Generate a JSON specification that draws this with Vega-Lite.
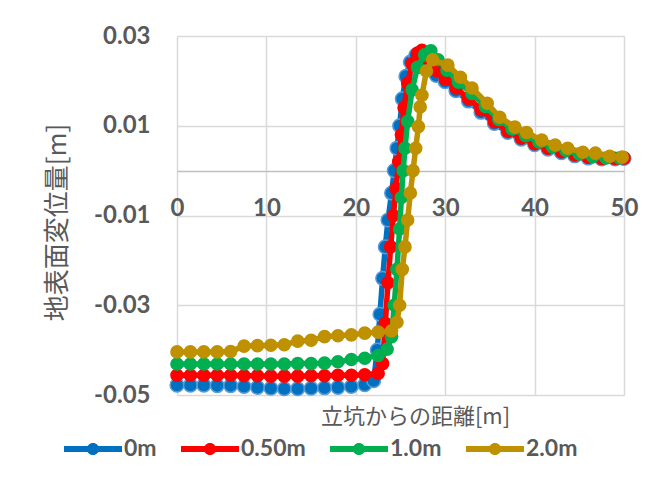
{
  "$schema": "https://vega.github.io/schema/vega-lite/v6.json",
  "width": 447,
  "height": 359,
  "autosize": {"type": "none"},
  "padding": {"left": 177, "top": 36, "right": 22, "bottom": 83},
  "background": "white",
  "config": {
    "view": {"stroke": null},
    "axis": {
      "labelFont": "Lato",
      "labelFontWeight": "bold",
      "labelFontSize": 24,
      "labelColor": "#595959",
      "titleFont": "Noto Sans CJK JP",
      "titleFontWeight": "normal",
      "titleColor": "#595959",
      "ticks": false,
      "domain": false,
      "gridColor": "#D9D9D9",
      "gridWidth": 1.5
    }
  },
  "data": {
    "values": [
      {"s": "0m", "x": 0, "y": -0.0478}, {"s": "0m", "x": 1.5, "y": -0.0478}, {"s": "0m", "x": 3, "y": -0.0478}, {"s": "0m", "x": 4.5, "y": -0.0479},
      {"s": "0m", "x": 6, "y": -0.0479}, {"s": "0m", "x": 7.5, "y": -0.0481}, {"s": "0m", "x": 9, "y": -0.0483}, {"s": "0m", "x": 10.5, "y": -0.0485},
      {"s": "0m", "x": 12, "y": -0.0486}, {"s": "0m", "x": 13.5, "y": -0.0486}, {"s": "0m", "x": 15, "y": -0.0485}, {"s": "0m", "x": 16.5, "y": -0.0484},
      {"s": "0m", "x": 18, "y": -0.0483}, {"s": "0m", "x": 19.5, "y": -0.0481}, {"s": "0m", "x": 21, "y": -0.0477}, {"s": "0m", "x": 22, "y": -0.0468},
      {"s": "0m", "x": 22.4, "y": -0.040}, {"s": "0m", "x": 22.7, "y": -0.032}, {"s": "0m", "x": 23.0, "y": -0.024}, {"s": "0m", "x": 23.3, "y": -0.017},
      {"s": "0m", "x": 23.6, "y": -0.011}, {"s": "0m", "x": 24.0, "y": -0.005}, {"s": "0m", "x": 24.3, "y": 0.000}, {"s": "0m", "x": 24.6, "y": 0.005},
      {"s": "0m", "x": 24.9, "y": 0.010}, {"s": "0m", "x": 25.2, "y": 0.016}, {"s": "0m", "x": 25.6, "y": 0.021}, {"s": "0m", "x": 26.1, "y": 0.0242},
      {"s": "0m", "x": 26.7, "y": 0.0257}, {"s": "0m", "x": 27.3, "y": 0.0258}, {"s": "0m", "x": 28.0, "y": 0.0235}, {"s": "0m", "x": 29.0, "y": 0.0212},
      {"s": "0m", "x": 30.0, "y": 0.0198}, {"s": "0m", "x": 31.2, "y": 0.0178}, {"s": "0m", "x": 32.6, "y": 0.0155}, {"s": "0m", "x": 34.0, "y": 0.0130},
      {"s": "0m", "x": 35.5, "y": 0.0105}, {"s": "0m", "x": 37.0, "y": 0.0085}, {"s": "0m", "x": 38.5, "y": 0.0070}, {"s": "0m", "x": 40.0, "y": 0.0058},
      {"s": "0m", "x": 41.5, "y": 0.0048}, {"s": "0m", "x": 43.0, "y": 0.0040}, {"s": "0m", "x": 44.5, "y": 0.0033}, {"s": "0m", "x": 46.0, "y": 0.0028},
      {"s": "0m", "x": 47.5, "y": 0.0026}, {"s": "0m", "x": 49.0, "y": 0.0026}, {"s": "0m", "x": 50.0, "y": 0.0027},

      {"s": "0.50m", "x": 0, "y": -0.0456}, {"s": "0.50m", "x": 1.5, "y": -0.0456}, {"s": "0.50m", "x": 3, "y": -0.0456}, {"s": "0.50m", "x": 4.5, "y": -0.0456},
      {"s": "0.50m", "x": 6, "y": -0.0456}, {"s": "0.50m", "x": 7.5, "y": -0.0457}, {"s": "0.50m", "x": 9, "y": -0.0457}, {"s": "0.50m", "x": 10.5, "y": -0.0458},
      {"s": "0.50m", "x": 12, "y": -0.0458}, {"s": "0.50m", "x": 13.5, "y": -0.0458}, {"s": "0.50m", "x": 15, "y": -0.0457}, {"s": "0.50m", "x": 16.5, "y": -0.0457},
      {"s": "0.50m", "x": 18, "y": -0.0456}, {"s": "0.50m", "x": 19.5, "y": -0.0456}, {"s": "0.50m", "x": 21, "y": -0.0455}, {"s": "0.50m", "x": 22.5, "y": -0.0452},
      {"s": "0.50m", "x": 23.0, "y": -0.0430}, {"s": "0.50m", "x": 23.3, "y": -0.034}, {"s": "0.50m", "x": 23.6, "y": -0.025}, {"s": "0.50m", "x": 23.9, "y": -0.017},
      {"s": "0.50m", "x": 24.2, "y": -0.010}, {"s": "0.50m", "x": 24.5, "y": -0.004}, {"s": "0.50m", "x": 24.8, "y": 0.002}, {"s": "0.50m", "x": 25.1, "y": 0.008},
      {"s": "0.50m", "x": 25.4, "y": 0.014}, {"s": "0.50m", "x": 25.8, "y": 0.0195}, {"s": "0.50m", "x": 26.3, "y": 0.0238}, {"s": "0.50m", "x": 26.9, "y": 0.0262},
      {"s": "0.50m", "x": 27.4, "y": 0.0268}, {"s": "0.50m", "x": 28.2, "y": 0.0248}, {"s": "0.50m", "x": 29.0, "y": 0.0223}, {"s": "0.50m", "x": 30.0, "y": 0.0204},
      {"s": "0.50m", "x": 31.2, "y": 0.0184}, {"s": "0.50m", "x": 32.6, "y": 0.0161}, {"s": "0.50m", "x": 34.0, "y": 0.0136}, {"s": "0.50m", "x": 35.5, "y": 0.0109},
      {"s": "0.50m", "x": 37.0, "y": 0.0088}, {"s": "0.50m", "x": 38.5, "y": 0.0073}, {"s": "0.50m", "x": 40.0, "y": 0.0060}, {"s": "0.50m", "x": 41.5, "y": 0.0050},
      {"s": "0.50m", "x": 43.0, "y": 0.0042}, {"s": "0.50m", "x": 44.5, "y": 0.0035}, {"s": "0.50m", "x": 46.0, "y": 0.0030}, {"s": "0.50m", "x": 47.5, "y": 0.0027},
      {"s": "0.50m", "x": 49.0, "y": 0.0027}, {"s": "0.50m", "x": 50.0, "y": 0.0028},

      {"s": "1.0m", "x": 0, "y": -0.0431}, {"s": "1.0m", "x": 1.5, "y": -0.0431}, {"s": "1.0m", "x": 3, "y": -0.0431}, {"s": "1.0m", "x": 4.5, "y": -0.0431},
      {"s": "1.0m", "x": 6, "y": -0.0431}, {"s": "1.0m", "x": 7.5, "y": -0.0431}, {"s": "1.0m", "x": 9, "y": -0.0431}, {"s": "1.0m", "x": 10.5, "y": -0.0431},
      {"s": "1.0m", "x": 12, "y": -0.0431}, {"s": "1.0m", "x": 13.5, "y": -0.0430}, {"s": "1.0m", "x": 15, "y": -0.0430}, {"s": "1.0m", "x": 16.5, "y": -0.0429},
      {"s": "1.0m", "x": 18, "y": -0.0426}, {"s": "1.0m", "x": 19.5, "y": -0.0421}, {"s": "1.0m", "x": 21, "y": -0.0418}, {"s": "1.0m", "x": 22.5, "y": -0.0412},
      {"s": "1.0m", "x": 23.5, "y": -0.0398}, {"s": "1.0m", "x": 24.0, "y": -0.0370}, {"s": "1.0m", "x": 24.3, "y": -0.030}, {"s": "1.0m", "x": 24.6, "y": -0.022},
      {"s": "1.0m", "x": 24.9, "y": -0.013}, {"s": "1.0m", "x": 25.1, "y": -0.006}, {"s": "1.0m", "x": 25.3, "y": 0.000}, {"s": "1.0m", "x": 25.5, "y": 0.005},
      {"s": "1.0m", "x": 25.8, "y": 0.011}, {"s": "1.0m", "x": 26.3, "y": 0.018}, {"s": "1.0m", "x": 26.9, "y": 0.023}, {"s": "1.0m", "x": 27.7, "y": 0.0258},
      {"s": "1.0m", "x": 28.4, "y": 0.0267}, {"s": "1.0m", "x": 29.2, "y": 0.0247}, {"s": "1.0m", "x": 30.2, "y": 0.0224}, {"s": "1.0m", "x": 31.5, "y": 0.0197},
      {"s": "1.0m", "x": 33.0, "y": 0.0172}, {"s": "1.0m", "x": 34.5, "y": 0.0143}, {"s": "1.0m", "x": 36.0, "y": 0.0114}, {"s": "1.0m", "x": 37.5, "y": 0.0093},
      {"s": "1.0m", "x": 39.0, "y": 0.0078}, {"s": "1.0m", "x": 40.5, "y": 0.0064}, {"s": "1.0m", "x": 42.0, "y": 0.0053}, {"s": "1.0m", "x": 43.5, "y": 0.0045},
      {"s": "1.0m", "x": 45.0, "y": 0.0037}, {"s": "1.0m", "x": 46.5, "y": 0.0031}, {"s": "1.0m", "x": 48.0, "y": 0.0028}, {"s": "1.0m", "x": 49.5, "y": 0.0028},

      {"s": "2.0m", "x": 0, "y": -0.0404}, {"s": "2.0m", "x": 1.5, "y": -0.0404}, {"s": "2.0m", "x": 3, "y": -0.0404}, {"s": "2.0m", "x": 4.5, "y": -0.0404},
      {"s": "2.0m", "x": 6, "y": -0.0403}, {"s": "2.0m", "x": 7.5, "y": -0.0391}, {"s": "2.0m", "x": 9, "y": -0.0390}, {"s": "2.0m", "x": 10.5, "y": -0.0389},
      {"s": "2.0m", "x": 12, "y": -0.0388}, {"s": "2.0m", "x": 13.5, "y": -0.0380}, {"s": "2.0m", "x": 15, "y": -0.0378}, {"s": "2.0m", "x": 16.5, "y": -0.0370},
      {"s": "2.0m", "x": 18, "y": -0.0368}, {"s": "2.0m", "x": 19.5, "y": -0.0366}, {"s": "2.0m", "x": 21, "y": -0.0362}, {"s": "2.0m", "x": 22.5, "y": -0.0360},
      {"s": "2.0m", "x": 24.0, "y": -0.0357}, {"s": "2.0m", "x": 24.6, "y": -0.0338}, {"s": "2.0m", "x": 24.9, "y": -0.030}, {"s": "2.0m", "x": 25.2, "y": -0.022},
      {"s": "2.0m", "x": 25.5, "y": -0.017}, {"s": "2.0m", "x": 25.8, "y": -0.011}, {"s": "2.0m", "x": 26.1, "y": -0.005}, {"s": "2.0m", "x": 26.4, "y": 0.000},
      {"s": "2.0m", "x": 26.7, "y": 0.005}, {"s": "2.0m", "x": 27.0, "y": 0.0098}, {"s": "2.0m", "x": 27.2, "y": 0.0142}, {"s": "2.0m", "x": 27.4, "y": 0.0168},
      {"s": "2.0m", "x": 27.9, "y": 0.0222}, {"s": "2.0m", "x": 28.6, "y": 0.0247}, {"s": "2.0m", "x": 30.3, "y": 0.0235}, {"s": "2.0m", "x": 31.7, "y": 0.0208},
      {"s": "2.0m", "x": 33.0, "y": 0.0184}, {"s": "2.0m", "x": 34.7, "y": 0.0150}, {"s": "2.0m", "x": 36.1, "y": 0.0119}, {"s": "2.0m", "x": 37.8, "y": 0.0097},
      {"s": "2.0m", "x": 39.1, "y": 0.0085}, {"s": "2.0m", "x": 40.8, "y": 0.0068}, {"s": "2.0m", "x": 42.3, "y": 0.0057}, {"s": "2.0m", "x": 43.7, "y": 0.0050},
      {"s": "2.0m", "x": 45.4, "y": 0.0041}, {"s": "2.0m", "x": 46.8, "y": 0.0039}, {"s": "2.0m", "x": 48.4, "y": 0.0032}, {"s": "2.0m", "x": 49.8, "y": 0.0030}
    ]
  },
  "encoding": {
    "x": {
      "field": "x",
      "type": "quantitative",
      "scale": {"domain": [0, 50], "nice": false, "zero": false},
      "axis": {
        "values": [0, 10, 20, 30, 40, 50],
        "grid": true,
        "labelFlush": false,
        "labelPadding": -187,
        "labelBaseline": "middle",
        "title": "立坑からの距離[m]",
        "titleFontSize": 22,
        "titleX": 238,
        "titleY": 21,
        "titleBaseline": "middle",
        "titleAlign": "center",
        "titleAngle": 0
      }
    },
    "y": {
      "field": "y",
      "type": "quantitative",
      "scale": {"domain": [-0.05, 0.03], "nice": false, "zero": false},
      "axis": {
        "values": [-0.05, -0.03, -0.01, 0, 0.01, 0.03],
        "grid": true,
        "gridColor": {"condition": {"test": "datum.value === 0", "value": "#BFBFBF"}, "value": "#D9D9D9"},
        "labelExpr": "datum.value === 0 ? '' : replace(format(datum.value, '.2f'), '\u2212', '-')",
        "labelPadding": 27,
        "title": "地表面変位量[m]",
        "titleFontSize": 26,
        "titleX": -120,
        "titleY": 186,
        "titleAngle": -90,
        "titleBaseline": "middle",
        "titleAlign": "center"
      }
    },
    "color": {
      "field": "s",
      "type": "nominal",
      "scale": {"domain": ["0m", "0.50m", "1.0m", "2.0m"], "range": ["#0070C0", "#FF0000", "#00B050", "#BF9000"]},
      "legend": {
        "orient": "none",
        "legendX": -113,
        "legendY": 384,
        "direction": "horizontal",
        "title": null,
        "symbolType": "M-1,-0.1L1,-0.1L1,0.1L-1,0.1Z M0.21,0A0.21,0.21,0,1,1,-0.21,0A0.21,0.21,0,1,1,0.21,0Z",
        "symbolSize": 3364,
        "symbolStrokeWidth": 0,
        "labelFont": "Lato",
        "labelFontSize": 23,
        "labelFontWeight": "bold",
        "labelColor": "#595959",
        "labelOffset": 2,
        "columnPadding": 24,
        "encode": {
          "symbols": {
            "update": {
              "fill": {"scale": "color", "field": "value"},
              "stroke": {"value": "transparent"},
              "opacity": {"value": 1},
              "fillOpacity": {"value": 1}
            }
          }
        }
      }
    }
  },
  "layer": [
    {
      "transform": [{"filter": "datum.s === '0m'"}],
      "layer": [
        {"mark": {"type": "line", "strokeWidth": 5.5}},
        {"mark": {"type": "point", "filled": true, "size": 185, "opacity": 1, "stroke": "#5B9BD5", "strokeWidth": 1.5}}
      ]
    },
    {
      "transform": [{"filter": "datum.s === '0.50m'"}],
      "layer": [
        {"mark": {"type": "line", "strokeWidth": 5.5}},
        {"mark": {"type": "point", "filled": true, "size": 185, "opacity": 1}}
      ]
    },
    {
      "transform": [{"filter": "datum.s === '1.0m'"}],
      "layer": [
        {"mark": {"type": "line", "strokeWidth": 5.5}},
        {"mark": {"type": "point", "filled": true, "size": 185, "opacity": 1}}
      ]
    },
    {
      "transform": [{"filter": "datum.s === '2.0m'"}],
      "layer": [
        {"mark": {"type": "line", "strokeWidth": 5.5}},
        {"mark": {"type": "point", "filled": true, "size": 185, "opacity": 1}}
      ]
    }
  ]
}
